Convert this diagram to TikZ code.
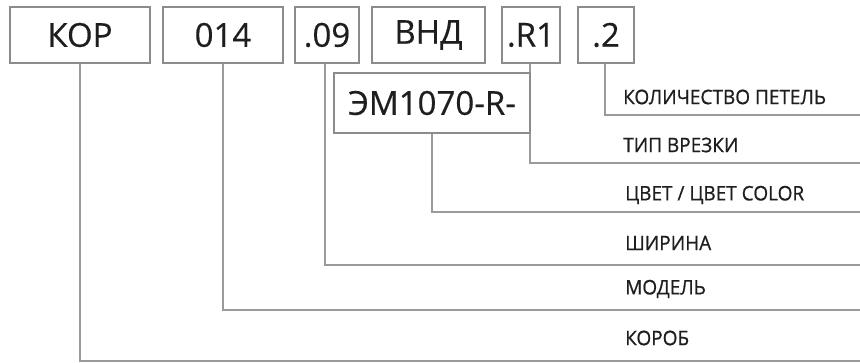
\documentclass[tikz,border=0pt]{standalone}
\usepackage{fontspec}
\setmainfont{Open Sans}
\newfontfamily\boxfont[FakeBold=0.4]{Open Sans}
\newfontfamily\labfont[FakeBold=0.8,FakeStretch=0.95]{Open Sans}
\definecolor{boxgray}{HTML}{8C8C8C}
\definecolor{linegray}{HTML}{9A9A9A}
\definecolor{txt}{HTML}{1E1E1E}
\begin{document}
\begin{tikzpicture}[x=1pt,y=-1pt,
  codebox/.style={draw=boxgray,line width=1.3pt,fill=white,inner sep=0pt,
    text=txt,font=\boxfont\fontsize{33}{33}\selectfont},
  lab/.style={anchor=west,inner sep=0pt,text=txt,font=\labfont\fontsize{20}{20}\selectfont},
  conn/.style={draw=linegray,line width=1.5pt}]
\useasboundingbox (0,0) rectangle (860,363);
% connector end points at right edge
\coordinate (e1) at (860,115);
\coordinate (e2) at (860,163);
\coordinate (e3) at (860,212);
\coordinate (e4) at (860,265);
\coordinate (e5) at (860,310);
\coordinate (e6) at (860,361);
% code boxes
\node[codebox,minimum width=140,minimum height=56] (kor) at (80,35) {КОР};
\node[codebox,minimum width=120,minimum height=56] (m014) at (223,35) {014};
\node[codebox,minimum width=64,minimum height=56] (w09) at (327,35) {.09};
\node[codebox,minimum width=113,minimum height=56] (vnd) at (428.5,35) {ВНД};
\node[codebox,minimum width=58,minimum height=56] (r1) at (531,35) {.R1};
\node[codebox,minimum width=56,minimum height=56] (p2) at (606,35) {.2};
% connectors
\draw[conn] (kor.south) |- (e6);
\draw[conn] (m014.south) |- (e5);
\draw[conn] (w09.south) ++(-2,0) |- (e4);
\draw[conn] (r1.south) ++(-1,0) |- (e2);
\draw[conn] (p2.south) ++(-1,0) |- (e1);
\node[codebox,minimum width=196,minimum height=60] (em) at (432,103) {ЭМ1070-R-};
\draw[conn] (em.south) |- (e3);
% labels
\node[lab] (l1) at (623,97) {КОЛИЧЕСТВО ПЕТЕЛЬ};
\node[lab] (l2) at (623,145) {ТИП ВРЕЗКИ};
\node[lab] (l3) at (625,195) {ЦВЕТ / ЦВЕТ COLOR};
\node[lab] (l4) at (625,243) {ШИРИНА};
\node[lab] (l5) at (625,289) {МОДЕЛЬ};
\node[lab] (l6) at (625,338) {КОРОБ};
\end{tikzpicture}
\end{document}
